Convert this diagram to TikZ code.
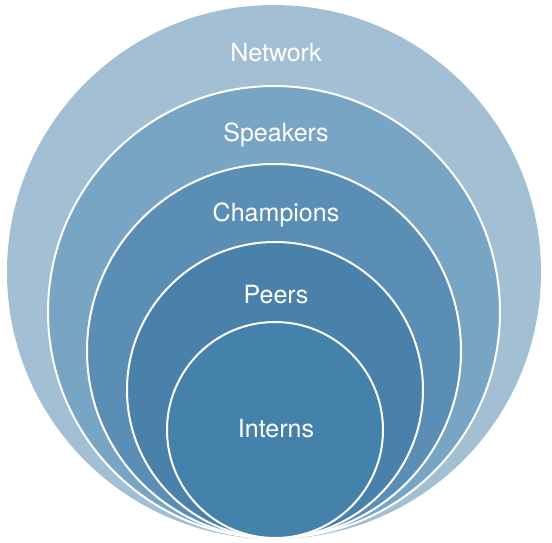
\documentclass[tikz,border=0pt]{standalone}
\usepackage{fontspec}
\setmainfont{TeX Gyre Heros}
\definecolor{cNet}{RGB}{162,191,211}
\definecolor{cSpk}{RGB}{121,165,196}
\definecolor{cCha}{RGB}{91,142,180}
\definecolor{cPee}{RGB}{74,129,171}
\definecolor{cInt}{RGB}{69,130,171}
\tikzset{
  ring/.style={draw=white, line width=2pt},
  lbl/.style={text=white, font=\fontsize{25}{28}\selectfont, inner sep=0pt, anchor=base}
}
\begin{document}
\begin{tikzpicture}[x=1pt,y=-1pt]
\useasboundingbox (0,0) rectangle (552,542);
\fill[cNet] (274,272) circle[radius=267pt];
\filldraw[ring, fill=cSpk] (274,312) circle[radius=226pt];
\filldraw[ring, fill=cCha] (274,351) circle[radius=187pt];
\filldraw[ring, fill=cPee] (275,390) circle[radius=148pt];
\filldraw[ring, fill=cInt] (275,430) circle[radius=108pt];
\node[lbl] (network) at (276,61) {Network};
\node[lbl] (speakers) at (276,141) {Speakers};
\node[lbl] (champions) at (276,221) {Champions};
\node[lbl] (peers) at (276,303) {Peers};
\node[lbl] (interns) at (276,437) {Interns};
\end{tikzpicture}
\end{document}
